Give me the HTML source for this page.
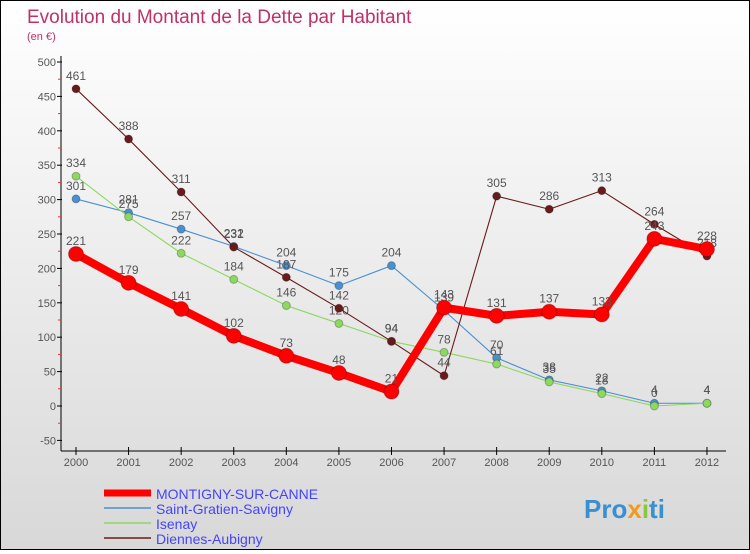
<!DOCTYPE html>
<html><head><meta charset="utf-8"><style>
body{margin:0;width:750px;height:550px;overflow:hidden;font-family:"Liberation Sans",sans-serif}
#wrap{position:relative;width:748px;height:548px;border:1px solid #000;background:linear-gradient(#fff 0%,#d8d8d8 100%)}
svg text{font-family:"Liberation Sans",sans-serif}
</style></head><body>
<div id="wrap">
<svg id="chart" width="748" height="548">
<text x="26" y="22" font-size="19" fill="#c0306a">Evolution du Montant de la Dette par Habitant</text>
<text x="26" y="39" font-size="11" fill="#c0306a">(en €)</text>
<g id="axes"></g><g id="series"></g>
<g>
<line x1="103" y1="492" x2="150" y2="492" stroke="#f00" stroke-width="7"/>
<text x="155" y="498" font-size="14" fill="#44f">MONTIGNY-SUR-CANNE</text>
<line x1="103" y1="507" x2="150" y2="507" stroke="#4a90d0" stroke-width="1.5"/>
<text x="155" y="513" font-size="14" fill="#44f">Saint-Gratien-Savigny</text>
<line x1="103" y1="522" x2="150" y2="522" stroke="#8cd860" stroke-width="1.5"/>
<text x="155" y="528" font-size="14" fill="#44f">Isenay</text>
<line x1="103" y1="537" x2="150" y2="537" stroke="#6a1a1a" stroke-width="1.5"/>
<text x="155" y="543" font-size="14" fill="#44f">Diennes-Aubigny</text>
</g>
<text x="583" y="517" font-size="26" font-weight="bold" fill="#3a8fd0">Pro<tspan fill="#f39a1e">x</tspan><tspan fill="#8cc63f">i</tspan>ti</text>
</svg></div>
<script>
const years=["2000","2001","2002","2003","2004","2005","2006","2007","2008","2009","2010","2011","2012"];
const yTicks=[-50,0,50,100,150,200,250,300,350,400,450,500];
const montigny=[221,179,141,102,73,48,21,143,131,137,133,243,228];
const saintGratien=[301,281,257,232,204,175,204,139,70,38,22,4,4];
const isenay=[334,275,222,184,146,120,94,78,61,35,18,0,4];
const diennes=[461,388,311,231,187,142,94,44,305,286,313,264,218];
const NS="http://www.w3.org/2000/svg";
const X=i=>75+i*52.58, Y=v=>405-v*0.688;
function mk(t,a,p){const e=document.createElementNS(NS,t);for(const k in a)e.setAttribute(k,a[k]);p.appendChild(e);return e;}
const ax=document.getElementById('axes'), sg=document.getElementById('series');
mk('line',{x1:60,y1:55,x2:60,y2:450,stroke:'#000'},ax);
mk('line',{x1:60,y1:450,x2:725,y2:450,stroke:'#000'},ax);
yTicks.forEach(v=>{
 mk('line',{x1:56,y1:Y(v),x2:61,y2:Y(v),stroke:'#000'},ax);
 if(v<500)mk('line',{x1:57,y1:Y(v+25),x2:60,y2:Y(v+25),stroke:'#e33'},ax);
 const t=mk('text',{x:55,y:Y(v)+4,'font-size':11,fill:'#555','text-anchor':'end'},ax);
 
 
 t.textContent=v;
});
years.forEach((y,i)=>{
 mk('line',{x1:X(i),y1:446,x2:X(i),y2:454,stroke:'#000'},ax);
 const t=mk('text',{x:X(i),y:465,'font-size':11,fill:'#555','text-anchor':'middle'},ax);
 
 
 t.textContent=y;
});
function series(data,color,w,r,name){
 const g=mk('g',{},sg);
 
 
 mk('polyline',{points:data.map((v,i)=>X(i)+','+Y(v)).join(' '),fill:'none',stroke:color,'stroke-width':w,'stroke-linejoin':'round'},g);
 data.forEach((v,i)=>{
  const c=mk('circle',{cx:X(i),cy:Y(v),r:r,fill:color,stroke:'rgba(0,0,0,0.25)'},g);
  
  
  const t=mk('text',{x:X(i),y:Y(v)-9,'font-size':12,fill:'#555','text-anchor':'middle'},g);
  
  
  t.textContent=v;
 });
}
series(saintGratien,'#4a90d0',1.1,4,'series-saint-gratien');
series(isenay,'#8cd860',1.1,4,'series-isenay');
series(diennes,'#6a1a1a',1.1,4,'series-diennes');
series(montigny,'#f00',8,7.5,'series-montigny');
</script>
</body></html>
